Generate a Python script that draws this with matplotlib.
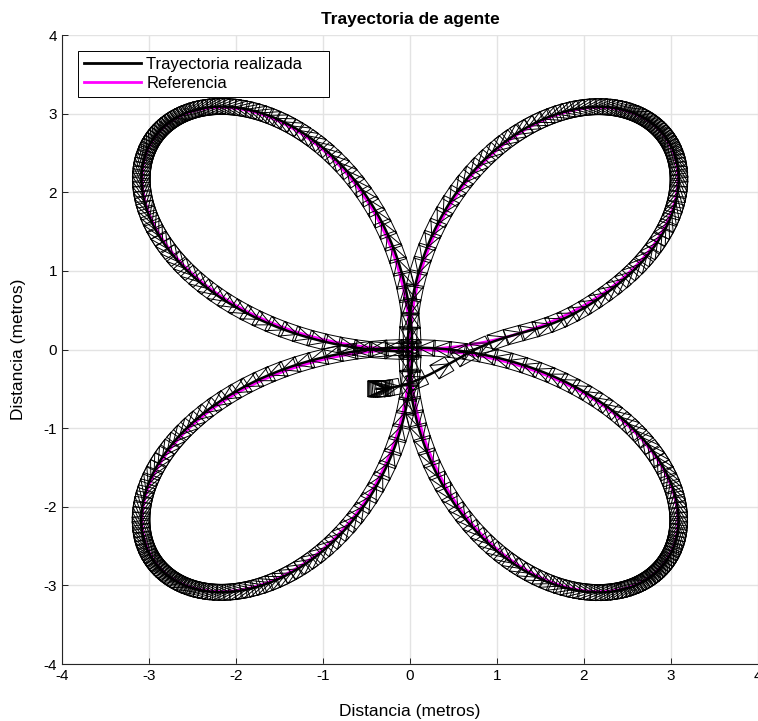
import numpy as np
import matplotlib
matplotlib.use("Agg")
import matplotlib.pyplot as plt
from matplotlib.collections import LineCollection
from matplotlib.lines import Line2D

plt.rcParams['font.family'] = ['Liberation Sans', 'DejaVu Sans']
plt.rcParams['axes.unicode_minus'] = False

# ── Parámetros de la referencia: rosa r = A*sin(K*theta) ──────
ROSE_AMPLITUDE = 4.0
ROSE_K = 2
SPEED_WARP = 0.43        # la referencia va más lenta en las puntas

# ── Simulación ────────────────────────────────────────────────
T_FINAL = 40.0
DT = 0.01
DRAW_EVERY = 10          # dibujar el robot cada N pasos
DRAW_START = 8           # al arrancar se dibuja en cada paso

START_POSE = [-0.385, -0.5, 0.0]   # x, y, orientación
ROBOT_LENGTH = 0.2
ROBOT_WIDTH = 0.2

KP = 4.0                 # ganancia de posición
K_HEADING = 8.0          # ganancia de orientación
TAU_V = 0.08             # constante de tiempo de la velocidad lineal
TAU_W = 0.08             # constante de tiempo de la velocidad angular

X_TICKS = [-4, -3, -2, -1, 0, 1, 2, 3, 4]
Y_TICKS = [-4, -3, -2, -1, 0, 1, 2, 3, 4]


def reference(t):
    s = 2 * np.pi * t / T_FINAL
    th = s + SPEED_WARP / 4 * np.sin(4 * s)
    r = ROSE_AMPLITUDE * np.sin(ROSE_K * th)
    return r * np.cos(th), r * np.sin(th)


def wrap(a):
    return (a + np.pi) % (2 * np.pi) - np.pi


def simulate():
    t = np.arange(0, T_FINAL + DT, DT)
    xr, yr = reference(t)
    vxr = np.gradient(xr, DT)
    vyr = np.gradient(yr, DT)

    x, y, phi = START_POSE
    v, w = 0.0, 0.0
    states = np.zeros((len(t), 3))
    for k in range(len(t)):
        states[k] = x, y, phi
        ux = vxr[k] + KP * (xr[k] - x)
        uy = vyr[k] + KP * (yr[k] - y)
        phi_des = np.arctan2(uy, ux)
        err = wrap(phi_des - phi)
        v_cmd = max(np.hypot(ux, uy) * np.cos(err), 0.0)
        w_cmd = K_HEADING * err
        v += (v_cmd - v) * DT / TAU_V
        w += (w_cmd - w) * DT / TAU_W
        x += v * np.cos(phi) * DT
        y += v * np.sin(phi) * DT
        phi += w * DT
    return t, xr, yr, states


def robot_segments(states):
    L, W = ROBOT_LENGTH / 2, ROBOT_WIDTH / 2
    # rectángulo + triángulo que apunta hacia delante
    body = np.array([[-L, W], [L, W], [L, -W], [-L, -W], [-L, W],
                     [L, 0.0], [-L, -W]])
    segs = []
    for x, y, phi in states:
        c, s = np.cos(phi), np.sin(phi)
        px = x + c * body[:, 0] - s * body[:, 1]
        py = y + s * body[:, 0] + c * body[:, 1]
        segs.append(np.column_stack([px, py]))
    return segs


t, xr, yr, states = simulate()
draw_idx = np.union1d(np.arange(DRAW_START),
                      np.arange(0, len(t), DRAW_EVERY))

fig = plt.figure(figsize=(7.58, 7.21), dpi=100)
ax = fig.add_axes([62 / 758, 57 / 721, 696 / 758, 629 / 721])

ax.plot(xr, yr, color='#ff00ff', lw=2.0, zorder=2)
glyphs = LineCollection(robot_segments(states[draw_idx]),
                        colors='black', linewidths=0.7, zorder=3)
ax.add_collection(glyphs)
ax.plot(states[:, 0], states[:, 1], color='black', lw=1.8, zorder=4)

ax.set_xlim(-4, 4)
ax.set_ylim(-4, 4)
ax.set_xticks(X_TICKS)
ax.set_yticks(Y_TICKS)
ax.tick_params(labelsize=11, direction='in', length=4, width=0.6)
ax.grid(True, color='#e3e3e3', lw=1.0)
ax.set_axisbelow(True)
for side in ('top', 'right'):
    ax.spines[side].set_visible(False)
for side in ('left', 'bottom'):
    ax.spines[side].set_linewidth(0.8)
    ax.spines[side].set_color('#262626')

ax.set_title('Trayectoria de agente', fontsize=12.5, fontweight='bold', pad=8)
ax.set_xlabel('Distancia (metros)', fontsize=12.5, labelpad=15)
ax.set_ylabel('Distancia (metros)', fontsize=12.5, labelpad=13)

handles = [Line2D([], [], color='black', lw=2.0),
           Line2D([], [], color='#ff00ff', lw=2.0)]
leg = ax.legend(handles, ['Trayectoria realizada', 'Referencia'],
                loc='upper left', bbox_to_anchor=(0.023, 0.5, 0.361, 0.4746),
                mode='expand', fontsize=12, handlelength=3.4,
                handletextpad=0.35, borderpad=0.35, labelspacing=0.25,
                borderaxespad=0, fancybox=False, framealpha=1.0,
                edgecolor='black')
leg.get_frame().set_linewidth(0.7)

fig.savefig('out.png', dpi=100)
